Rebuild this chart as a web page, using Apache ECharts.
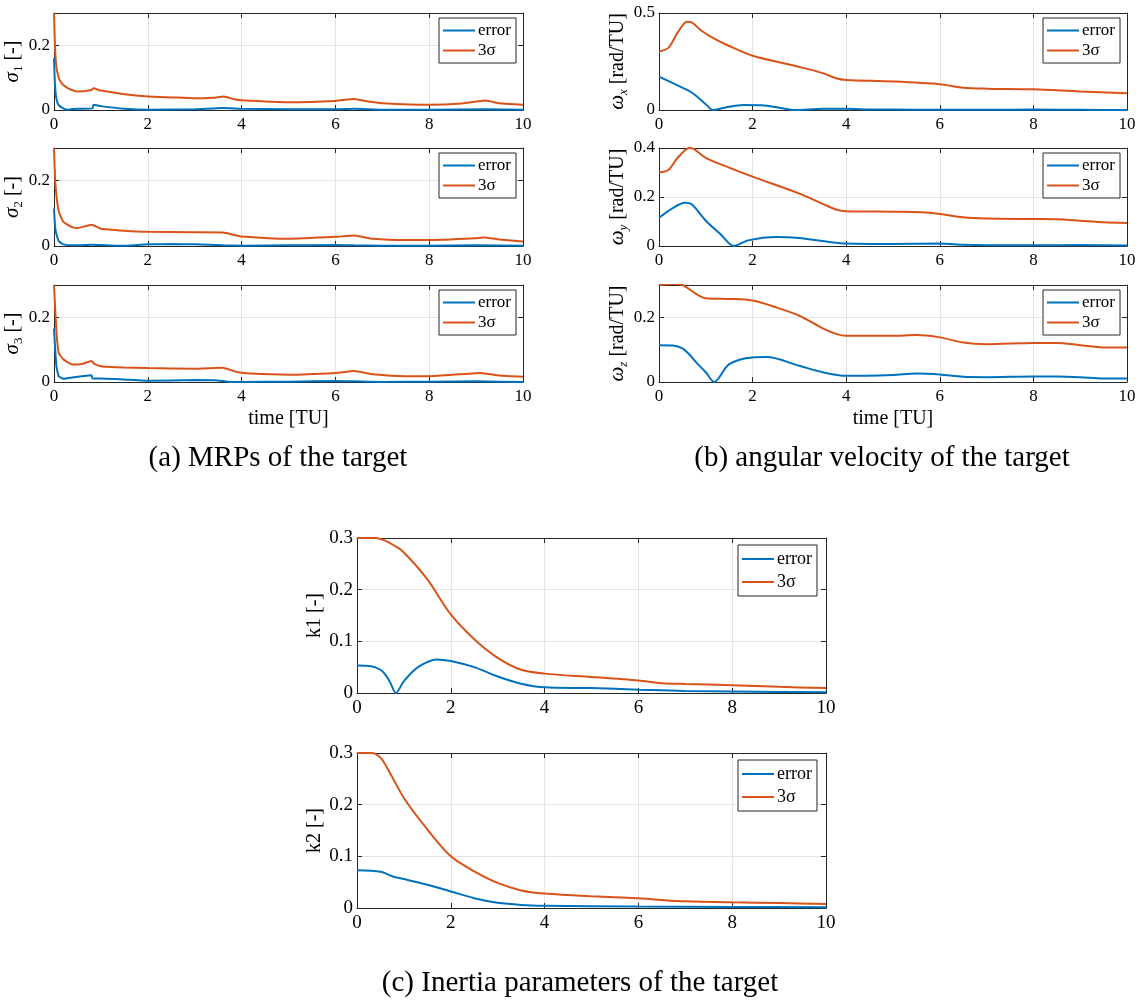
<!DOCTYPE html>
<html>
<head>
<meta charset="utf-8">
<script src="https://cdn.jsdelivr.net/npm/echarts@6/dist/echarts.min.js"></script>
<style>
html,body{margin:0;padding:0;background:#fff;}
#chart{width:1141px;height:1001px;}
</style>
</head>
<body>
<div id="chart"></div>
<script>
// ---------- data ----------
const xTicks = [0, 2, 4, 6, 8, 10];
const legendNames = ['error', '3σ'];

// (a) MRPs sigma1
const tSig1S = [0,0.02,0.05,0.1,0.15,0.2,0.3,0.5,0.8,0.84,1.0,1.5,2,2.5,3,3.4,3.62,3.85,4,5,6,6.4,6.7,7,8,8.7,9.2,9.5,10];
const sig1S  = [0.3,0.2,0.135,0.1,0.086,0.077,0.067,0.057,0.062,0.067,0.06,0.049,0.042,0.039,0.036,0.038,0.042,0.033,0.03,0.024,0.028,0.034,0.026,0.021,0.016,0.02,0.029,0.021,0.016];
const tSig1E = [0,0.02,0.05,0.1,0.2,0.3,0.5,0.82,0.84,1.0,1.5,2,3,3.6,4,5,6,6.4,7,8,9.2,10];
const sig1E  = [0.16,0.08,0.035,0.015,0.005,0.001,0.004,0.005,0.0165,0.012,0.004,0.001,0.002,0.006,0.004,0.002,0.002,0.004,0.001,0.001,0.002,0.001];

// (a) MRPs sigma2
const tSig2S = [0,0.03,0.1,0.2,0.4,0.5,0.8,1.0,1.5,2,3,3.6,4,5,6,6.4,6.8,7.5,8,9,9.15,9.5,10];
const sig2S  = [0.3,0.19,0.107,0.074,0.057,0.055,0.065,0.053,0.047,0.0435,0.042,0.0415,0.029,0.022,0.028,0.032,0.022,0.018,0.018,0.024,0.026,0.02,0.0135];
const tSig2E = [0,0.03,0.1,0.2,0.5,0.8,1.0,1.4,2,2.5,3,3.6,4,5,6,6.4,7,8,9,10];
const sig2E  = [0.115,0.05,0.015,0.005,0.002,0.004,0.003,0.0005,0.005,0.006,0.005,0.002,0.001,0.002,0.003,0.002,0.001,0.001,0.002,0.001];

// (a) MRPs sigma3
const tSig3S = [0,0.05,0.1,0.2,0.4,0.6,0.8,0.85,1.0,1.5,2,3,3.6,3.9,4.2,5,6,6.4,6.8,7.5,8,9.1,9.5,10];
const sig3S  = [0.3,0.16,0.09,0.07,0.054,0.056,0.065,0.057,0.049,0.045,0.043,0.041,0.044,0.031,0.026,0.0225,0.028,0.034,0.024,0.018,0.018,0.028,0.02,0.016];
const tSig3E = [0,0.05,0.1,0.2,0.4,0.8,0.82,1.0,1.5,2,3,3.5,3.7,4,5,6,6.4,7,8,9,10];
const sig3E  = [0.165,0.05,0.018,0.01,0.014,0.021,0.011,0.011,0.008,0.004,0.006,0.005,0.001,0.0,0.001,0.003,0.002,0.0,0.001,0.002,0.0];

// (b) angular velocity wx
const tWxS = [0,0.2,0.4,0.6,0.7,0.9,1.2,1.5,2,3,3.5,3.8,4,5,6,6.5,7,8,9,10];
const wxS  = [0.302,0.32,0.40,0.455,0.452,0.41,0.365,0.33,0.28,0.222,0.19,0.162,0.155,0.147,0.133,0.115,0.11,0.107,0.095,0.086];
const tWxE = [0,0.5,0.7,1.0,1.15,1.4,1.8,2.2,2.6,2.9,3.5,4,4.5,5,6,7,8,9,10];
const wxE  = [0.172,0.115,0.09,0.03,0.0,0.012,0.026,0.024,0.01,0.0,0.006,0.006,0.003,0.002,0.001,0.001,0.002,0.001,0.0];

// (b) angular velocity wy
const tWyS = [0,0.2,0.4,0.65,0.75,1.0,1.5,2,3,3.5,3.8,4,5,5.6,6,6.5,7,8,8.5,9,9.5,10];
const wyS  = [0.30,0.31,0.36,0.40,0.395,0.36,0.32,0.283,0.214,0.172,0.148,0.142,0.14,0.138,0.131,0.117,0.112,0.11,0.109,0.103,0.097,0.094];
const tWyE = [0,0.3,0.55,0.7,1.0,1.3,1.6,1.9,2.5,3,3.5,4,5,6,6.5,7,8,9,10];
const wyE  = [0.115,0.156,0.177,0.17,0.103,0.051,0.0,0.023,0.037,0.033,0.02,0.01,0.008,0.01,0.005,0.003,0.003,0.004,0.002];

// (b) angular velocity wz
const tWzS = [0,0.3,0.5,0.8,1.0,1.5,2,2.5,3,3.5,3.8,4,5,5.5,6,6.5,7,8,8.5,9,9.5,10];
const wzS  = [0.3,0.303,0.3,0.272,0.259,0.257,0.252,0.231,0.205,0.166,0.148,0.143,0.143,0.145,0.138,0.122,0.117,0.121,0.121,0.114,0.107,0.107];
const tWzE = [0,0.3,0.5,0.65,0.8,1.0,1.18,1.5,2,2.3,3,3.5,4,5,5.5,6,6.5,7,8,8.5,9,9.5,10];
const wzE  = [0.114,0.113,0.104,0.085,0.06,0.03,0.0,0.055,0.076,0.077,0.05,0.03,0.019,0.022,0.026,0.023,0.016,0.015,0.017,0.017,0.015,0.011,0.011];

// (c) inertia parameter k1
const tK1S = [0,0.4,0.6,0.8,1.0,1.5,2,2.5,3,3.5,4,5,6,6.5,7,8,9,10];
const k1S  = [0.3,0.3,0.295,0.285,0.272,0.22,0.152,0.104,0.068,0.045,0.0375,0.031,0.024,0.019,0.0175,0.015,0.012,0.0095];
const tK1E = [0,0.3,0.5,0.6,0.7,0.83,1.0,1.3,1.7,2,2.5,3,3.5,4,5,6,7,8,9,10];
const k1E  = [0.053,0.052,0.045,0.036,0.022,0.0,0.023,0.05,0.065,0.062,0.05,0.032,0.018,0.011,0.0095,0.0065,0.004,0.003,0.002,0.0015];

// (c) inertia parameter k2
const tK2S = [0,0.3,0.5,0.7,1.0,1.5,2,2.5,3,3.5,4,5,6,6.5,7,8,9,10];
const k2S  = [0.3,0.3,0.291,0.262,0.213,0.152,0.1,0.071,0.0485,0.034,0.028,0.0226,0.0187,0.0155,0.013,0.011,0.0097,0.0078];
const tK2E = [0,0.5,0.8,1.0,1.5,2,2.5,3,3.5,4,6,8,10];
const k2E  = [0.073,0.07,0.06,0.056,0.045,0.032,0.019,0.01,0.006,0.0045,0.003,0.002,0.0015];

// ---------- layout ----------
const BLUE = '#0072BD', ORANGE = '#D95319';
const AXC = '#262626', GRIDC = '#e3e3e3';
const FONT = "'Liberation Serif', 'DejaVu Serif', serif";

function pairs(t, v) { return t.map((x, i) => [x, v[i]]); }

const panels = [
  {left:54, top:13, width:469, height:97, ymax:0.3, yint:0.2, hideMax:true, yname:['σ','1',' [-]'], gap:27, fs:17, tE:tSig1E, e:sig1E, tS:tSig1S, s:sig1S, smooth:0.15},
  {left:54, top:148, width:469, height:98, ymax:0.3, yint:0.2, hideMax:true, yname:['σ','2',' [-]'], gap:27, fs:17, tE:tSig2E, e:sig2E, tS:tSig2S, s:sig2S, smooth:0.15},
  {left:54, top:285, width:469, height:97, ymax:0.3, yint:0.2, hideMax:true, yname:['σ','3',' [-]'], gap:27, fs:17, tE:tSig3E, e:sig3E, tS:tSig3S, s:sig3S, smooth:0.15, xname:'time [TU]'},
  {left:659, top:13, width:468, height:97, ymax:0.5, yint:0.5, hideMax:false, yname:['ω','x',' [rad/TU]'], gap:26, fs:17, tE:tWxE, e:wxE, tS:tWxS, s:wxS, smooth:0.3},
  {left:659, top:148, width:468, height:98, ymax:0.4, yint:0.2, hideMax:false, yname:['ω','y',' [rad/TU]'], gap:26, fs:17, tE:tWyE, e:wyE, tS:tWyS, s:wyS, smooth:0.3},
  {left:659, top:285, width:468, height:97, ymax:0.3, yint:0.2, hideMax:true, yname:['ω','z',' [rad/TU]'], gap:26, fs:17, tE:tWzE, e:wzE, tS:tWzS, s:wzS, smooth:0.3, xname:'time [TU]'},
  {left:357, top:538, width:469, height:155, ymax:0.3, yint:0.1, hideMax:false, yname:['k1 [-]'], gap:30, fs:19, tE:tK1E, e:k1E, tS:tK1S, s:k1S, smooth:0.3},
  {left:357, top:753, width:469, height:155, ymax:0.3, yint:0.1, hideMax:false, yname:['k2 [-]'], gap:30, fs:19, tE:tK2E, e:k2E, tS:tK2S, s:k2S, smooth:0.3}
];

const grid = [], xAxis = [], yAxis = [], series = [], legend = [];
panels.forEach((p, i) => {
  grid.push({left:p.left, top:p.top, width:p.width, height:p.height, containLabel:false});
  const nm = p.yname.length === 3
    ? '{i|' + p.yname[0] + '}{s|' + p.yname[1] + '}{n|' + p.yname[2] + '}'
    : '{n|' + p.yname[0] + '}';
  const isLetterSub = ['x','y','z'].includes(p.yname[1]);
  xAxis.push({
    type:'value', gridIndex:i, min:0, max:10, interval:2,
    axisLine:{show:true, onZero:false, lineStyle:{color:AXC, width:1}},
    axisTick:{show:true, inside:true, length:5, lineStyle:{color:AXC}},
    axisLabel:{color:'#000', fontFamily:FONT, fontSize:p.fs, margin:6},
    splitLine:{show:true, lineStyle:{color:GRIDC, width:1}},
    name: p.xname || '', nameLocation:'middle', nameGap:27,
    nameTextStyle:{color:'#000', fontFamily:FONT, fontSize:20}
  });
  xAxis.push({
    type:'value', gridIndex:i, position:'top', min:0, max:10, interval:2,
    axisLine:{show:true, onZero:false, lineStyle:{color:AXC, width:1}},
    axisTick:{show:true, inside:true, length:5, lineStyle:{color:AXC}},
    axisLabel:{show:false}, splitLine:{show:false}
  });
  yAxis.push({
    type:'value', gridIndex:i, min:0, max:p.ymax, interval:p.yint,
    axisLine:{show:true, onZero:false, lineStyle:{color:AXC, width:1}},
    axisTick:{show:true, inside:true, length:5, lineStyle:{color:AXC}},
    axisLabel:{color:'#000', fontFamily:FONT, fontSize:p.fs, margin:4, showMaxLabel:!p.hideMax},
    splitLine:{show:true, lineStyle:{color:GRIDC, width:1}},
    name:nm, nameLocation:'middle', nameGap:p.gap,
    nameTextStyle:{
      color:'#000', fontFamily:FONT,
      rich:{
        i:{fontFamily:FONT, fontStyle:'italic', fontSize:21, lineHeight:24, color:'#000'},
        s:{fontFamily:FONT, fontStyle:isLetterSub?'italic':'normal', fontSize:13, lineHeight:10, verticalAlign:'bottom', color:'#000'},
        n:{fontFamily:FONT, fontSize:20, lineHeight:24, color:'#000'}
      }
    }
  });
  yAxis.push({
    type:'value', gridIndex:i, position:'right', min:0, max:p.ymax, interval:p.yint,
    axisLine:{show:true, onZero:false, lineStyle:{color:AXC, width:1}},
    axisTick:{show:true, inside:true, length:5, lineStyle:{color:AXC}},
    axisLabel:{show:false}, splitLine:{show:false}
  });
  series.push({
    name:'error', type:'line', xAxisIndex:2*i, yAxisIndex:2*i,
    data:pairs(p.tE, p.e), showSymbol:false, smooth:p.smooth,
    lineStyle:{color:BLUE, width:2}, itemStyle:{color:BLUE}, z:3, animation:false
  });
  series.push({
    name:'3σ', type:'line', xAxisIndex:2*i, yAxisIndex:2*i,
    data:pairs(p.tS, p.s), showSymbol:false, smooth:p.smooth,
    lineStyle:{color:ORANGE, width:2}, itemStyle:{color:ORANGE}, z:2, animation:false
  });
  const big = i >= 6;
  legend.push({
    data:legendNames, orient:'vertical',
    left: p.left + p.width - (big ? 88 : 84), top: p.top + (big ? 7 : 5),
    icon:'rect', itemWidth:32, itemHeight:2, itemGap: big ? 5 : 3,
    padding:[ big ? 5 : 4, 5, big ? 5 : 4, 4],
    borderColor:AXC, borderWidth:1, backgroundColor:'#fff', borderRadius:0,
    textStyle:{fontFamily:FONT, fontSize: big ? 18 : 17, color:'#000', lineHeight: 15, padding:[0,0,0,-2]},
    selectedMode:false, z:10
  });
});

const capRich = {
  p:{fontFamily:FONT, fontSize:29, color:'#7f9db5'},
  t:{fontFamily:FONT, fontSize:29, color:'#000'}
};
const graphic = [
  {type:'text', position:[278, 458], style:{text:'{p|(a)}{t| MRPs of the target}', rich:capRich, align:'center', verticalAlign:'middle'}},
  {type:'text', position:[882, 458], style:{text:'{p|(b)}{t| angular velocity of the target}', rich:capRich, align:'center', verticalAlign:'middle'}},
  {type:'text', position:[580, 983], style:{text:'{p|(c)}{t| Inertia parameters of the target}', rich:capRich, align:'center', verticalAlign:'middle'}}
];

const chart = echarts.init(document.getElementById('chart'), null, {renderer:'canvas'});
chart.setOption({
  animation:false, backgroundColor:'#fff',
  grid, xAxis, yAxis, series, legend, graphic
});
</script>
</body>
</html>
